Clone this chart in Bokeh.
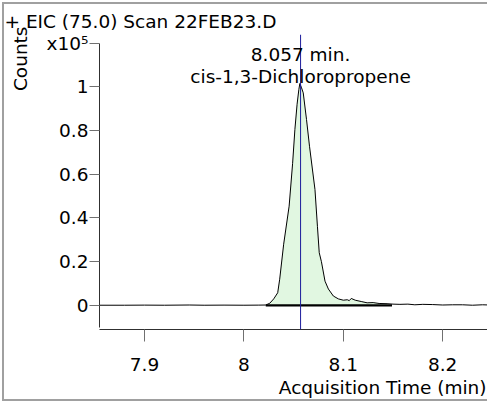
from bokeh.plotting import figure
from bokeh.models import Range1d, FixedTicker, Label, Span, ColumnDataSource, Title
from bokeh.embed import file_html
from bokeh.resources import INLINE

# ---------------- data ----------------
title_text = "+ EIC (75.0) Scan 22FEB23.D"
peak_time = 8.057
compound = "cis-1,3-Dichloropropene"
x_axis_title = "Acquisition Time (min)"
y_axis_title = "Counts"

# acquisition time (min)
times = [7.855, 7.88, 7.90, 7.92, 7.945, 7.96, 7.98, 8.00, 8.015, 8.022,
         8.026, 8.030, 8.034, 8.036, 8.040, 8.0455, 8.049, 8.0513, 8.0535, 8.0553,
         8.0563, 8.058, 8.0597, 8.063, 8.066, 8.0715, 8.074, 8.0758, 8.078, 8.0816,
         8.085, 8.090, 8.095, 8.100, 8.104, 8.106, 8.108, 8.112, 8.118, 8.124,
         8.130, 8.136, 8.144, 8.150, 8.157, 8.165, 8.172, 8.180, 8.190, 8.200,
         8.210, 8.220, 8.230, 8.240, 8.255]
# counts (x10^5)
counts = [0.001, 0.001, 0.0015, 0.001, 0.002, 0.001, 0.0015, 0.001, 0.0015, 0.002,
          0.010, 0.030, 0.058, 0.120, 0.280, 0.454, 0.650, 0.805, 0.920, 0.988,
          1.015, 0.995, 0.972, 0.850, 0.728, 0.530, 0.360, 0.241, 0.200, 0.111,
          0.075, 0.043, 0.030, 0.024, 0.026, 0.022, 0.032, 0.024, 0.018, 0.012,
          0.013, 0.009, 0.008, 0.006, 0.005, 0.006, 0.003, 0.005, 0.004, 0.002,
          0.003, 0.003, 0.001, 0.003, 0.001]
# integration limits (min)
integ_start = 8.022
integ_end = 8.149

x_ticks = [7.9, 8.0, 8.1, 8.2]
x_tick_labels = ["7.9", "8", "8.1", "8.2"]
y_ticks = [0, 0.2, 0.4, 0.6, 0.8, 1.0, 1.2]
y_tick_labels = ["0", "0.2", "0.4", "0.6", "0.8", "1", "\u00a0\u00a0x10\u2075"]

# ---------------- styling ----------------
FONT = "DejaVu Sans"
FS = "18.5px"
FILL = "#e1f7e1"
BLUE = "#1c1c9c"
FRAME = "2px solid #a0a0a0"

src = ColumnDataSource(dict(t=times, c=counts))
fill_t = [t for t in times if integ_start <= t <= integ_end]
fill_c = [c for t, c in zip(times, counts) if integ_start <= t <= integ_end]
fill_src = ColumnDataSource(dict(t=fill_t, c=fill_c, z=[0] * len(fill_t)))
base_src = ColumnDataSource(dict(t=[integ_start, integ_end], z=[0, 0]))

p = figure(width=485, height=399, output_backend="svg", toolbar_location=None,
           x_range=Range1d(7.8547, 8.2471), y_range=Range1d(-0.110, 1.239),
           min_border_left=95, min_border_top=30, min_border_bottom=74,
           min_border_right=0)
p.styles = {"border-left": FRAME, "border-top": FRAME, "border-bottom": FRAME,
            "margin-left": "2px", "margin-top": "2px"}
p.xgrid.visible = False
p.ygrid.visible = False
p.outline_line_color = None
p.background_fill_color = "white"
p.border_fill_color = "white"

# title (top-left)
p.title.text = title_text
p.title.align = "left"
p.title.offset = -95
p.title.standoff = 6
p.title.text_font = FONT
p.title.text_font_size = FS
p.title.text_font_style = "normal"
p.title.text_color = "black"

# axes
for ax in (p.xaxis[0], p.yaxis[0]):
    ax.axis_line_color = "#303030"
    ax.major_tick_line_color = "#707070"
    ax.minor_tick_line_color = None
    ax.major_tick_in = 0
    ax.major_label_text_font = FONT
    ax.major_label_text_font_size = FS
    ax.major_label_text_color = "black"
p.xaxis.ticker = FixedTicker(ticks=x_ticks)
p.xaxis.major_label_overrides = dict(zip(x_ticks, x_tick_labels))
p.xaxis.major_tick_out = 12
p.xaxis.major_label_standoff = 16
p.yaxis.ticker = FixedTicker(ticks=y_ticks)
p.yaxis.major_label_overrides = dict(zip(y_ticks, y_tick_labels))
p.yaxis.major_tick_out = 10
p.yaxis.major_label_standoff = 1
p.yaxis.bounds = (-0.1, 1.2)

# axis titles placed at the ends of the axes
p.add_layout(Title(text=y_axis_title, align="right", offset=-8, standoff=2,
                   text_font=FONT, text_font_size=FS, text_font_style="normal",
                   text_color="black"), "left")
p.add_layout(Title(text=x_axis_title, align="right", offset=3, standoff=3,
                   text_font=FONT, text_font_size=FS, text_font_style="normal",
                   text_color="black"), "below")

# data
p.varea(x="t", y1="z", y2="c", source=fill_src, fill_color=FILL)
p.line(x="t", y="c", source=src, line_color="black", line_width=1)
p.line(x="t", y="z", source=base_src, line_color="black", line_width=2.2)
p.add_layout(Span(location=peak_time, dimension="height", line_color=BLUE, line_width=1))

# peak annotation
p.add_layout(Label(x=peak_time, y=48, x_units="data", y_units="canvas",
                   text="%.3f min." % peak_time, text_font=FONT, text_font_size=FS,
                   text_color="black", text_align="center", text_baseline="alphabetic"))
p.add_layout(Label(x=peak_time, y=70, x_units="data", y_units="canvas",
                   text=compound, text_font=FONT, text_font_size=FS, text_color="black",
                   text_align="center", text_baseline="alphabetic"))

open("out.html", "w").write(file_html(p, INLINE))
